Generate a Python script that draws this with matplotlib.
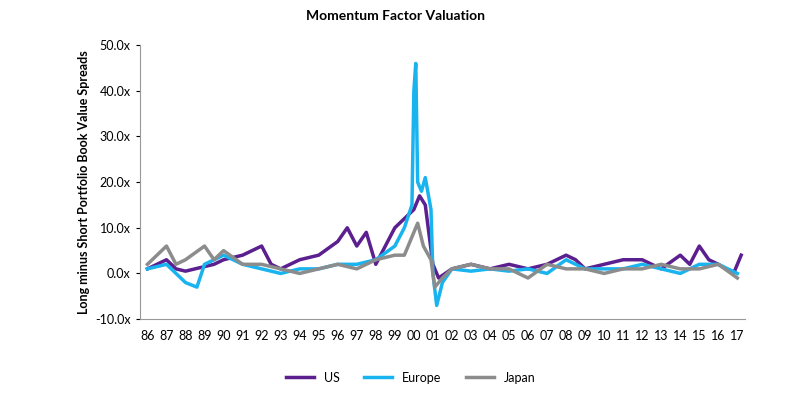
import matplotlib.pyplot as plt

plt.rcParams['font.family'] = ['Lato', 'DejaVu Sans']

# years since 1986
us_t = [0, 0.5, 1, 1.5, 2, 3, 3.5, 4, 5, 6, 6.5, 7, 8, 9, 10, 10.5, 11, 11.5, 12, 12.5, 13, 13.5,
        14, 14.3, 14.6, 15, 15.3, 16, 17, 18, 19, 20, 21, 22, 22.5, 23, 24, 25, 26, 27, 28, 28.5,
        29, 29.5, 30, 30.8, 31.2]
us_v = [1, 2, 3, 1, 0.5, 1.5, 2, 3, 4, 6, 2, 1, 3, 4, 7, 10, 6, 9, 2, 6, 10, 12,
        14, 17, 15, 2, -1, 1, 2, 1, 2, 1, 2, 4, 3, 1, 2, 3, 3, 1, 4, 2,
        6, 3, 2, 0, 4]

eu_t = [0, 1, 2, 2.6, 3, 4, 5, 6, 7, 8, 9, 10, 11, 12, 13, 13.5, 13.9, 14.0, 14.1, 14.2, 14.4,
        14.6, 14.9, 15.0, 15.2, 15.5, 16, 17, 18, 19, 20, 21, 22, 23, 24, 25, 26, 27, 28, 28.5,
        29, 30, 31]
eu_v = [1, 2, -2, -3, 2, 4, 2, 1, 0, 1, 1, 2, 2, 3, 6, 10, 15, 40, 46, 20, 18,
        21, 14, 0, -7, -2, 1, 0.5, 1, 0.5, 1, 0, 3, 1, 1, 1, 2, 1, 0, 1,
        2, 2, 0]

jp_t = [0, 0.5, 1, 1.5, 2, 3, 3.5, 4, 5, 6, 7, 8, 9, 10, 11, 12, 13, 13.5, 14, 14.2, 14.5,
        14.9, 15.1, 15.5, 16, 17, 18, 19, 20, 21, 22, 23, 24, 25, 26, 27, 28, 29, 30, 31]
jp_v = [2, 4, 6, 2, 3, 6, 3, 5, 2, 2, 1, 0, 1, 2, 1, 3, 4, 4, 9, 11, 6,
        3, -3, -1, 1, 2, 1, 1, -1, 2, 1, 1, 0, 1, 1, 2, 1, 1, 2, -1]

year_labels = ['86', '87', '88', '89', '90', '91', '92', '93', '94', '95', '96', '97', '98', '99',
               '00', '01', '02', '03', '04', '05', '06', '07', '08', '09', '10', '11', '12', '13',
               '14', '15', '16', '17']

fig = plt.figure(figsize=(7.9, 4.07), dpi=100)
ax = fig.add_axes([0.177, 0.216, 0.766, 0.673])
ax.plot(us_t, us_v, color='#5b1f8f', lw=2.5, label='US', zorder=2)
ax.plot(eu_t, eu_v, color='#19b4ef', lw=2.5, label='Europe', zorder=3)
ax.plot(jp_t, jp_v, color='#8c8c8c', lw=2.5, label='Japan', zorder=4)

ax.set_ylim(-10, 50)
ax.set_yticks(range(-10, 51, 10))
ax.set_yticklabels([f'{v:.1f}x' for v in range(-10, 51, 10)], fontsize=9)
ax.set_xlim(-0.4, 31.4)
ax.set_xticks(range(len(year_labels)))
ax.set_xticklabels(year_labels, fontsize=9)
ax.tick_params(axis='x', length=0, pad=8)
ax.tick_params(axis='y', direction='out', length=3)
for s in ['top', 'right']:
    ax.spines[s].set_visible(False)
ax.spines['bottom'].set_color('#999999')
ax.spines['left'].set_color('#999999')
ax.set_ylabel('Long minus Short Portfolio Book Value Spreads', fontsize=9, fontweight='bold')
fig.suptitle('Momentum Factor Valuation', fontsize=10, fontweight='bold', y=0.975)
fig.legend(loc='lower center', ncol=3, frameon=False, fontsize=9, bbox_to_anchor=(0.52, 0.03),
           handlelength=2.2)
fig.savefig('out.png')
